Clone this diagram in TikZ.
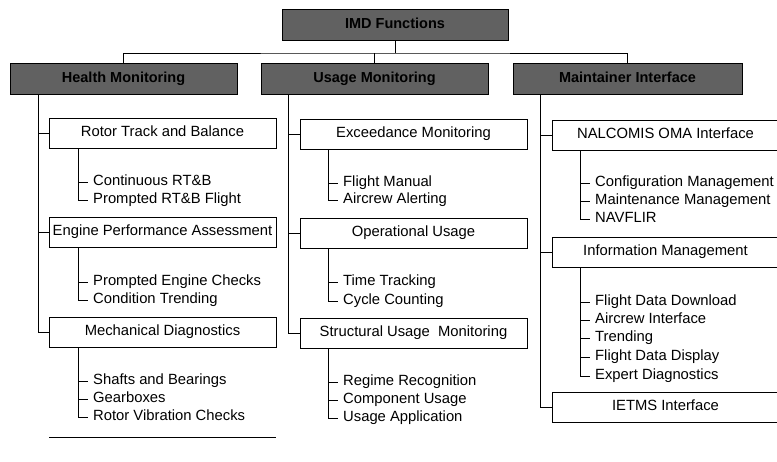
\documentclass[tikz,border=0pt]{standalone}
\usepackage{fontspec}
\setmainfont{Liberation Sans}
\begin{document}
\begin{tikzpicture}[x=1pt,y=-1pt,
    topbox/.style={draw=black, line width=1pt, fill=black!62, minimum height=31pt, inner sep=0pt,
      text height=10.5pt, text depth=3pt, font=\fontsize{14.5}{17}\selectfont\bfseries},
    funcbox/.style={draw, line width=1pt, minimum width=227pt, minimum height=30pt, inner sep=0pt,
      text height=10.5pt, text depth=3pt, font=\fontsize{14.8}{17}\selectfont},
    item/.style={anchor=west, inner xsep=5pt, inner ysep=0pt, text height=10.5pt, text depth=3pt,
      font=\fontsize{14.8}{17}\selectfont},
    link/.style={line width=0.8pt}]
    \useasboundingbox (0,0) rectangle (777,461);
    \clip (0,0) rectangle (777,461);

    % Top level
    \node[topbox, minimum width=226pt] (imd) at (395,25) {IMD Functions};

    % Main functions
    \node[topbox, minimum width=227pt] (hm) at (123.5,79) {Health Monitoring};
    \node[topbox, minimum width=227pt] (um) at (374.5,79) {Usage Monitoring};
    \node[topbox, minimum width=229pt] (mi) at (627.5,79) {Maintainer Interface};

    \draw[link] (imd.south) -- ++(0,12) coordinate (bus);
    \draw[link] (hm.north) |- (bus) -| (mi.north);
    \draw[link] (um.north) -- (um.north |- bus);

    % Health monitoring column
    \node[funcbox] (rtb) at (162.5,133) {Rotor Track and Balance};
    \node[funcbox] (epa) at (162.5,232) {Engine Performance Assessment};
    \node[funcbox] (md) at (162.5,332) {Mechanical Diagnostics};
    \coordinate (hmtrunk) at (38,95);
    \draw[link] (hmtrunk) |- (rtb.west);
    \draw[link] (hmtrunk) |- (epa.west);
    \draw[link] (hmtrunk) |- (md.west);

    \node[item] (crtb) at (88,182) {Continuous RT\&B};
    \node[item] (prtb) at (88,200) {Prompted RT\&B Flight};
    \coordinate (rtbtrunk) at (78,148);
    \draw[link] (rtbtrunk) |- (crtb.west);
    \draw[link] (rtbtrunk) |- (prtb.west);

    \node[item] (pec) at (88,282) {Prompted Engine Checks};
    \node[item] (ct) at (88,300) {Condition Trending};
    \coordinate (epatrunk) at (78,247);
    \draw[link] (epatrunk) |- (pec.west);
    \draw[link] (epatrunk) |- (ct.west);

    \node[item] (sb) at (88,381) {Shafts and Bearings};
    \node[item] (gb) at (88,399) {Gearboxes};
    \node[item] (rvc) at (88,417) {Rotor Vibration Checks};
    \coordinate (mdtrunk) at (78,347);
    \draw[link] (mdtrunk) |- (sb.west);
    \draw[link] (mdtrunk) |- (gb.west);
    \draw[link] (mdtrunk) |- (rvc.west);

    \draw[line width=1pt] (49,437) -- (276,437);

    % Usage monitoring column
    \node[funcbox] (em) at (413.5,134) {Exceedance Monitoring};
    \node[funcbox] (ou) at (413.5,233) {Operational Usage};
    \node[funcbox] (sum) at (413.5,333) {Structural Usage\ \ Monitoring};
    \coordinate (umtrunk) at (288,95);
    \draw[link] (umtrunk) |- (em.west);
    \draw[link] (umtrunk) |- (ou.west);
    \draw[link] (umtrunk) |- (sum.west);

    \node[item] (fm) at (338,183) {Flight Manual};
    \node[item] (aa) at (338,200) {Aircrew Alerting};
    \coordinate (emtrunk) at (328,149);
    \draw[link] (emtrunk) |- (fm.west);
    \draw[link] (emtrunk) |- (aa.west);

    \node[item] (tt) at (338,282) {Time Tracking};
    \node[item] (cc) at (338,301) {Cycle Counting};
    \coordinate (outrunk) at (328,248);
    \draw[link] (outrunk) |- (tt.west);
    \draw[link] (outrunk) |- (cc.west);

    \node[item] (rr) at (338,382) {Regime Recognition};
    \node[item] (cu) at (338,400) {Component Usage};
    \node[item] (ua) at (338,418) {Usage Application};
    \coordinate (sumtrunk) at (328,348);
    \draw[link] (sumtrunk) |- (rr.west);
    \draw[link] (sumtrunk) |- (cu.west);
    \draw[link] (sumtrunk) |- (ua.west);

    % Maintainer interface column
    \node[funcbox] (noi) at (665.5,135) {NALCOMIS OMA Interface};
    \node[funcbox] (im) at (665.5,252) {Information Management};
    \node[funcbox] (ietms) at (665.5,407) {IETMS Interface};
    \coordinate (mitrunk) at (540,95);
    \draw[link] (mitrunk) |- (noi.west);
    \draw[link] (mitrunk) |- (im.west);
    \draw[link] (mitrunk) |- (ietms.west);

    \node[item] (cfm) at (590,183) {Configuration Management};
    \node[item] (mm) at (590,201) {Maintenance Management};
    \node[item] (nav) at (590,219) {NAVFLIR};
    \coordinate (noitrunk) at (580,150);
    \draw[link] (noitrunk) |- (cfm.west);
    \draw[link] (noitrunk) |- (mm.west);
    \draw[link] (noitrunk) |- (nav.west);

    \node[item] (fdd) at (590,302) {Flight Data Download};
    \node[item] (ai) at (590,320) {Aircrew Interface};
    \node[item] (tr) at (590,338) {Trending};
    \node[item] (fdp) at (590,357) {Flight Data Display};
    \node[item] (ed) at (590,376) {Expert Diagnostics};
    \coordinate (imtrunk) at (580,267);
    \draw[link] (imtrunk) |- (fdd.west);
    \draw[link] (imtrunk) |- (ai.west);
    \draw[link] (imtrunk) |- (tr.west);
    \draw[link] (imtrunk) |- (fdp.west);
    \draw[link] (imtrunk) |- (ed.west);
\end{tikzpicture}
\end{document}
